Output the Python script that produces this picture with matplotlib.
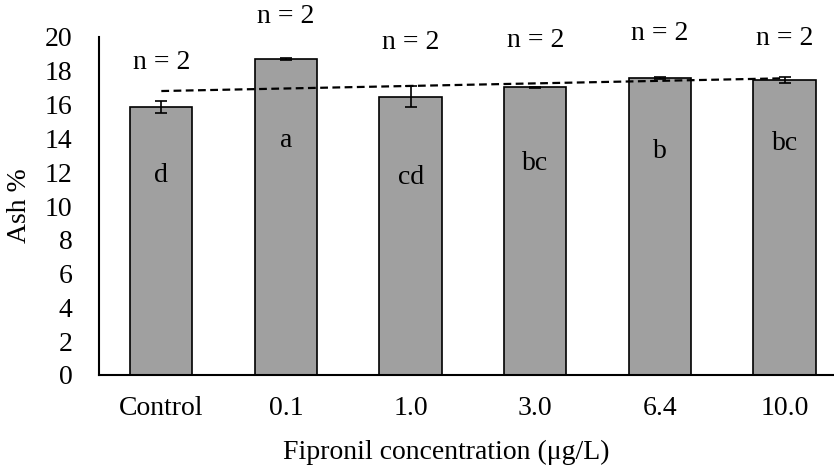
import numpy as np
import matplotlib
matplotlib.use("Agg")
import matplotlib.pyplot as plt

plt.rcParams['font.family'] = ['Liberation Serif', 'DejaVu Serif']

categories = ["Control", "0.1", "1.0", "3.0", "6.4", "10.0"]
ash_mean = [15.86, 18.68, 16.47, 17.02, 17.59, 17.46]
ash_err = [0.38, 0.05, 0.61, 0.05, 0.05, 0.16]
group_letters = ["d", "a", "cd", "bc", "b", "bc"]
letter_y = [11.8, 13.9, 11.7, 12.5, 13.2, 13.7]
n_labels = ["n = 2"] * 6
n_label_y = [18.5, 21.2, 19.7, 19.8, 20.2, 19.9]

W, H = 834, 475
FS = 20
fig = plt.figure(figsize=(W / 100, H / 100), dpi=100)
ax = fig.add_axes([99 / W, 100 / H, 748 / W, 338 / H])

x = np.arange(len(categories))
ax.bar(x, ash_mean, width=0.5, color="#a0a0a0", edgecolor="black", linewidth=1.2, zorder=2)
ax.errorbar(x, ash_mean, yerr=ash_err, fmt="none", ecolor="black", elinewidth=1.2,
            capsize=4.5, capthick=1.2, zorder=3)

# linear trendline through the bar means
coef = np.polyfit(x + 1, ash_mean, 1)
ax.plot(x, np.polyval(coef, x + 1), linestyle=(0, (3.5, 2)), color="black", linewidth=1.6, zorder=4)

for xi, lab, ly in zip(x, group_letters, letter_y):
    ax.text(xi, ly, lab, ha="center", va="center", fontsize=FS, zorder=5)
for xi, lab, ny in zip(x, n_labels, n_label_y):
    ax.text(xi, ny, lab, ha="center", va="center", fontsize=FS, clip_on=False, zorder=5)

ax.set_xlim(-0.5, 5.5)
ax.set_ylim(0, 20)
ax.set_yticks(np.arange(0, 21, 2))
ax.set_xticks(x)
ax.set_xticklabels(categories)
ax.tick_params(axis="both", length=0, labelsize=FS)
ax.tick_params(axis="y", pad=19)
ax.tick_params(axis="x", pad=15)
for side in ("top", "right"):
    ax.spines[side].set_visible(False)
for side in ("left", "bottom"):
    ax.spines[side].set_linewidth(1.5)

ax.set_ylabel("Ash %", fontsize=FS, labelpad=9)
ax.set_xlabel("Fipronil concentration (μg/L)", fontsize=FS)
ax.xaxis.set_label_coords(0.464, -0.193)

fig.savefig("out.png", dpi=100)
